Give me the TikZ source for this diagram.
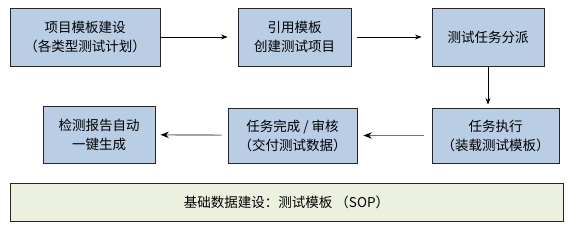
\documentclass[tikz,border=0pt]{standalone}
\usepackage{fontspec}
\setmainfont{Noto Sans CJK SC}
\usetikzlibrary{arrows.meta}
\definecolor{boxblue}{HTML}{B9CDE5}
\definecolor{boxgreen}{HTML}{EBF1DE}

\begin{document}
\begin{tikzpicture}[x=1pt,y=-1pt,>=Stealth,
    stepbox/.style={draw=black!85,line width=0.8pt,fill=boxblue,align=center,
      inner sep=0pt,font=\fontsize{13.5}{19}\selectfont},
    basebox/.style={draw=black!85,line width=0.8pt,fill=boxgreen,align=center,
      inner sep=0pt,font=\fontsize{13.5}{19}\selectfont},
    flow/.style={->,line width=0.8pt},
    backflow/.style={-{Stealth[black]},draw=black!55,line width=1.2pt}]
        \useasboundingbox (0,0) rectangle (568,226);
        \node[stepbox,minimum width=150pt,minimum height=58pt] (plan) at (85,37) {项目模板建设\\（各类型测试计划）};
        \node[stepbox,minimum width=113pt,minimum height=58pt] (create) at (294.5,37) {引用模板\\创建测试项目};
        \node[stepbox,minimum width=112pt,minimum height=58pt] (assign) at (488,37) {测试任务分派};
        \node[stepbox,minimum width=127pt,minimum height=55pt] (run) at (495.5,135.5) {任务执行\\（装载测试模板）};
        \node[stepbox,minimum width=129pt,minimum height=55pt] (check) at (292.5,135.5) {任务完成 / 审核\\（交付测试数据）};
        \node[stepbox,minimum width=112pt,minimum height=57pt] (report) at (99,134.5) {检测报告自动\\一键生成};
        \node[basebox,minimum width=553pt,minimum height=38pt] (base) at (286.5,202) {基础数据建设：测试模板 （SOP）};
        \draw[flow,shorten >=10pt] (plan) -- (create);
        \draw[flow,shorten <=6pt,shorten >=10pt] (create) -- (assign);
        \draw[flow,shorten >=3pt] (assign.south) -- (assign.south |- run.north);
        \draw[backflow,shorten <=8pt,shorten >=6pt] (run) -- (check);
        \draw[backflow,shorten <=6pt,shorten >=5pt] (check) -- (report);
      \end{tikzpicture}
\end{document}
